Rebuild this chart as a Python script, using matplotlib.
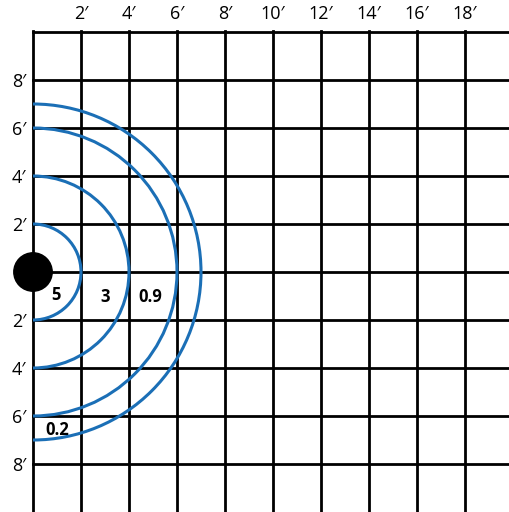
import matplotlib
matplotlib.use('Agg')
import numpy as np
import matplotlib.pyplot as plt
from matplotlib.patches import Arc, Circle

plt.rcParams['font.family'] = ['Open Sans', 'DejaVu Sans']

# grid in feet
x_ticks = [2, 4, 6, 8, 10, 12, 14, 16, 18]
y_ticks = [8, 6, 4, 2, -2, -4, -6, -8]
x_lines = [0, 2, 4, 6, 8, 10, 12, 14, 16, 18]
y_lines = [10, 8, 6, 4, 2, 0, -2, -4, -6, -8]

# rings (radius in feet) and the level labels
radii = [2, 4, 6, 7]
levels = ['5', '3', '0.9', '0.2']
level_x = [0.95, 3.0, 4.9, 1.0]
level_y = [-0.95, -1.05, -1.05, -6.6]

blue = '#1b6fb6'
px = 24.0  # pixels per foot

fig = plt.figure(figsize=(5.09, 5.12), dpi=100)
ax = fig.add_axes([33/509, 0, 476/509, 481/512])
ax.set_xlim(0, 476/px)
ax.set_ylim(-240/px, 241/px)

for x in x_lines:
    ax.axvline(x, color='black', lw=2.0, clip_on=False, zorder=1)
for y in y_lines:
    ax.axhline(y, color='black', lw=2.0, clip_on=False, zorder=1)

for r in radii:
    ax.add_patch(Arc((0, 0), 2*r, 2*r, theta1=-90, theta2=90,
                     color=blue, lw=2.2, zorder=2))

ax.add_patch(Circle((0, 0), 0.8, color='black', zorder=3, clip_on=False))

for t, x, y in zip(levels, level_x, level_y):
    ax.text(x, y, t, ha='center', va='center', fontsize=12,
            fontweight='bold', zorder=4)

for s in ax.spines.values():
    s.set_visible(False)

ax.xaxis.tick_top()
ax.set_xticks(x_ticks)
ax.set_xticklabels(['%d\u2032' % v for v in x_ticks])
ax.set_yticks(y_ticks)
ax.set_yticklabels(['%d\u2032' % abs(v) for v in y_ticks])
ax.tick_params(axis='x', length=0, pad=6, labelsize=13)
ax.tick_params(axis='y', length=0, pad=5, labelsize=13)

plt.savefig('out.png', dpi=100)
